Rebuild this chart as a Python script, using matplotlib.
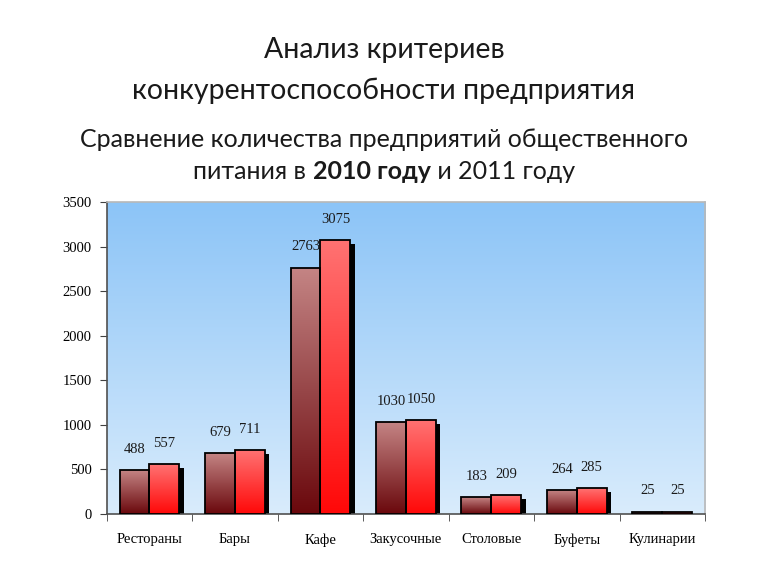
import numpy as np
import matplotlib
matplotlib.use("Agg")
import matplotlib.pyplot as plt
from matplotlib.colors import LinearSegmentedColormap

# data
categories = ['Рестораны', 'Бары', 'Кафе', 'Закусочные', 'Столовые', 'Буфеты', 'Кулинарии']
values_2010 = [488, 679, 2763, 1030, 183, 264, 25]
values_2011 = [557, 711, 3075, 1050, 209, 285, 25]
y_ticks = [0, 500, 1000, 1500, 2000, 2500, 3000, 3500]

TITLE_FONT = ['Lato', 'DejaVu Sans']
SERIF = ['Liberation Serif', 'DejaVu Serif']

fig = plt.figure(figsize=(7.68, 5.76), dpi=100)
ax = fig.add_axes([0.139, 0.108, 0.779, 0.541])

# background gradient of the plot area
bg = LinearSegmentedColormap.from_list('bg', ['#d9ecfc', '#8cc4f7'])
ax.imshow(np.linspace(0, 1, 256).reshape(-1, 1)[::-1], aspect='auto', cmap=bg,
          extent=[0, 1, 0, 1], transform=ax.transAxes, zorder=0)

x = np.arange(len(categories))
w = 0.35
cmap1 = LinearSegmentedColormap.from_list('s1', ['#6a080c', '#c48484'])
cmap2 = LinearSegmentedColormap.from_list('s2', ['#ff0808', '#ff7272'])

def draw_series(xpos, vals, cmap):
    # black drop shadow
    ax.bar(xpos + 0.05, [max(v - 45, 0) for v in vals], w, color='black', zorder=2)
    bars = ax.bar(xpos, vals, w, facecolor='none', edgecolor='black', linewidth=1.3, zorder=4)
    for b in bars:
        x0, h = b.get_x(), b.get_height()
        im = ax.imshow(np.linspace(0, 1, 128).reshape(-1, 1)[::-1], aspect='auto', cmap=cmap,
                       extent=[x0, x0 + w, 0, h], zorder=3)
        im.set_clip_path(b)
    return bars

b1 = draw_series(x - w / 2, values_2010, cmap1)
b2 = draw_series(x + w / 2, values_2011, cmap2)

for bars, vals in ((b1, values_2010), (b2, values_2011)):
    for b, v in zip(bars, vals):
        ax.annotate(str(v), (b.get_x() + w / 2, v), xytext=(0, 21), textcoords='offset pixels',
                    ha='center', va='center', fontsize=10.5, family=SERIF, color='#1a1a1a', zorder=6)

ax.set_xlim(-0.5, len(categories) - 0.5)
ax.set_ylim(0, 3500)
ax.set_yticks(y_ticks)
ax.set_yticklabels([str(t) for t in y_ticks], family=SERIF, fontsize=10.5)
ax.set_xticks(x)
ax.set_xticklabels(categories, family=SERIF, fontsize=10.5)
ax.set_xticks(np.arange(len(categories) + 1) - 0.5, minor=True)
ax.tick_params(axis='x', which='major', length=0, pad=14)
ax.tick_params(axis='x', which='minor', length=5, direction='out', color='#404040')
ax.tick_params(axis='y', length=5, direction='out', color='#404040', pad=6)

for s in ('left', 'bottom'):
    ax.spines[s].set_color('#505050')
    ax.spines[s].set_linewidth(1.2)
for s in ('top', 'right'):
    ax.spines[s].set_color('#b8b8b8')
    ax.spines[s].set_linewidth(1.2)

# titles
fig.text(0.5, 0.913, 'Анализ критериев', ha='center', va='center', fontsize=20.5, family=TITLE_FONT, color='#1a1a1a')
fig.text(0.5, 0.843, 'конкурентоспособности предприятия', ha='center', va='center', fontsize=20.5, family=TITLE_FONT, color='#1a1a1a')
fig.text(0.5, 0.757, 'Сравнение количества предприятий общественного', ha='center', va='center', fontsize=18, family=TITLE_FONT, color='#1a1a1a')

t1 = fig.text(0.5, 0.703, 'питания в ', ha='left', va='center', fontsize=18, family=TITLE_FONT, color='#1a1a1a')
t2 = plt.annotate('2010 году', xy=(1, 0), xycoords=t1, va='bottom', ha='left', fontsize=18,
                  family=TITLE_FONT, fontweight='bold', color='#1a1a1a')
t3 = plt.annotate(' и 2011 году', xy=(1, 0), xycoords=t2, va='bottom', ha='left', fontsize=18,
                  family=TITLE_FONT, color='#1a1a1a')

# center the mixed line
fig.canvas.draw()
r = fig.canvas.get_renderer()
total = (t3.get_window_extent(r).x1 - t1.get_window_extent(r).x0) / fig.bbox.width
t1.set_x(0.5 - total / 2)

fig.savefig('out.png', dpi=100)
